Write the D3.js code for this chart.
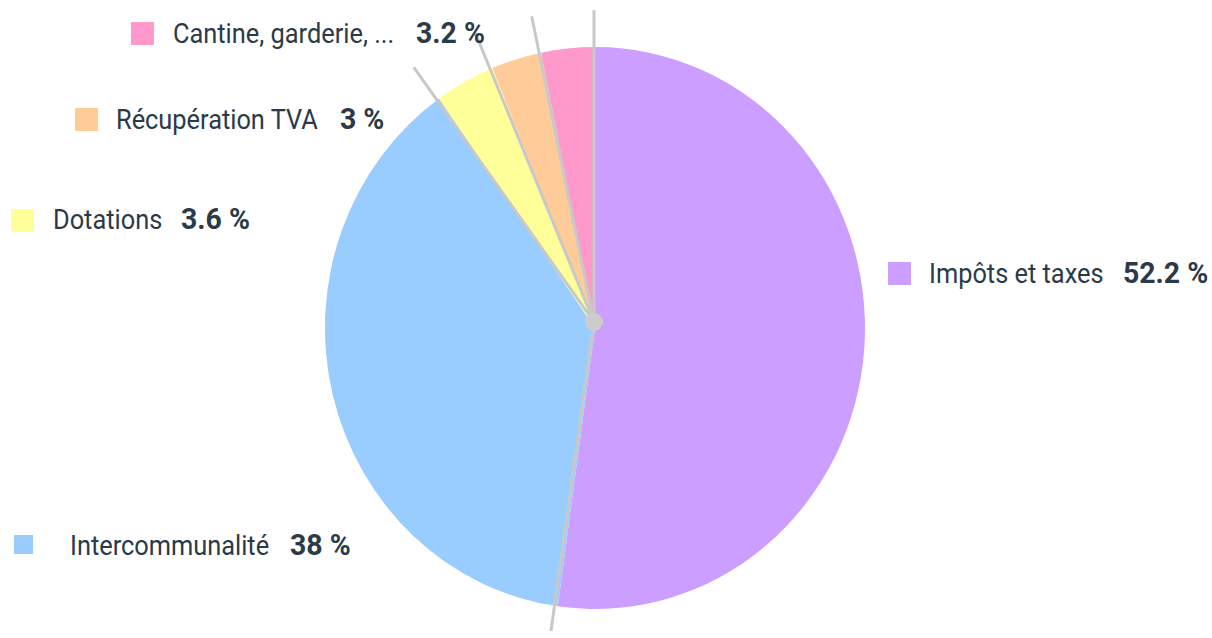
<!DOCTYPE html>
<html>
<head>
<meta charset="utf-8">
<script src="https://cdn.jsdelivr.net/npm/d3@7"></script>
<style>
  body { margin: 0; background: #fff; }
  svg { display: block; }
  .lbl { font-family: Roboto, sans-serif; font-size: 27px; fill: #2b3a48; }
  .val { font-weight: bold; font-size: 29px; }
</style>
</head>
<body>
<div id="chart"></div>
<script>
var width = 1212, height = 638;

// data
var categories = ["Impôts et taxes", "Intercommunalité", "Dotations", "Récupération TVA", "Cantine, garderie, ..."];
var values = [52.2, 38, 3.6, 3, 3.2];
var valueLabels = ["52.2 %", "38 %", "3.6 %", "3 %", "3.2 %"];
var colors = ["#cc9eff", "#99ccff", "#ffff99", "#ffcc99", "#ff99cc"];

// label layout (legend square x/y/size, text x, value x, baseline)
var labelLayout = [
  {sq: [888, 262, 23], tx: 929, vx: 1123, y: 283},
  {sq: [14, 535, 19], tx: 70, vx: 290, y: 555},
  {sq: [11, 209, 23], tx: 53, vx: 181, y: 229},
  {sq: [75, 108, 23], tx: 116, vx: 340, y: 129},
  {sq: [131, 22, 23], tx: 173, vx: 416, y: 43}
];

var cx = 595, cy = 328, r = 270, ry = 281;
var hub = {x: 594, y: 322};

var svg = d3.select("#chart")
  .append("svg")
    .attr("width", width)
    .attr("height", height)

var pie = d3.pie().sort(null).value(d => d)
var arcs = pie(values)

var arc = d3.arc().innerRadius(0).outerRadius(r)

svg.append("g")
  .attr("transform", "translate(" + cx + "," + cy + ") scale(1," + (ry / r) + ")")
  .selectAll("path")
  .data(arcs)
  .enter()
  .append("path")
    .attr("d", arc)
    .attr("fill", (d, i) => colors[i])

// radial lines along slice borders
var lineLen = d3.scaleLinear().domain([0, 1]).range([0, 312])

svg.selectAll(".ray")
  .data(arcs)
  .enter()
  .append("line")
    .attr("class", "ray")
    .attr("x1", hub.x)
    .attr("y1", hub.y)
    .attr("x2", d => hub.x + lineLen(1) * Math.sin(d.startAngle))
    .attr("y2", d => hub.y - lineLen(1) * Math.cos(d.startAngle))
    .attr("stroke", "#c8c8c8")
    .attr("stroke-width", 3)

svg.append("circle")
  .attr("cx", hub.x)
  .attr("cy", hub.y)
  .attr("r", 9)
  .attr("fill", "#cccccc")

// labels
var lbl = svg.selectAll(".label")
  .data(categories)
  .enter()
  .append("g")
    .attr("class", "label")

lbl.append("rect")
  .attr("x", (d, i) => labelLayout[i].sq[0])
  .attr("y", (d, i) => labelLayout[i].sq[1])
  .attr("width", (d, i) => labelLayout[i].sq[2])
  .attr("height", (d, i) => labelLayout[i].sq[2])
  .attr("fill", (d, i) => colors[i])

lbl.append("text")
  .attr("class", "lbl")
  .attr("transform", (d, i) => "translate(" + labelLayout[i].tx + "," + labelLayout[i].y + ") scale(0.94,1)")
  .text(d => d)

lbl.append("text")
  .attr("class", "lbl val")
  .attr("transform", (d, i) => "translate(" + labelLayout[i].vx + "," + labelLayout[i].y + ") scale(0.98,1)")
  .text((d, i) => valueLabels[i])
</script>
</body>
</html>
